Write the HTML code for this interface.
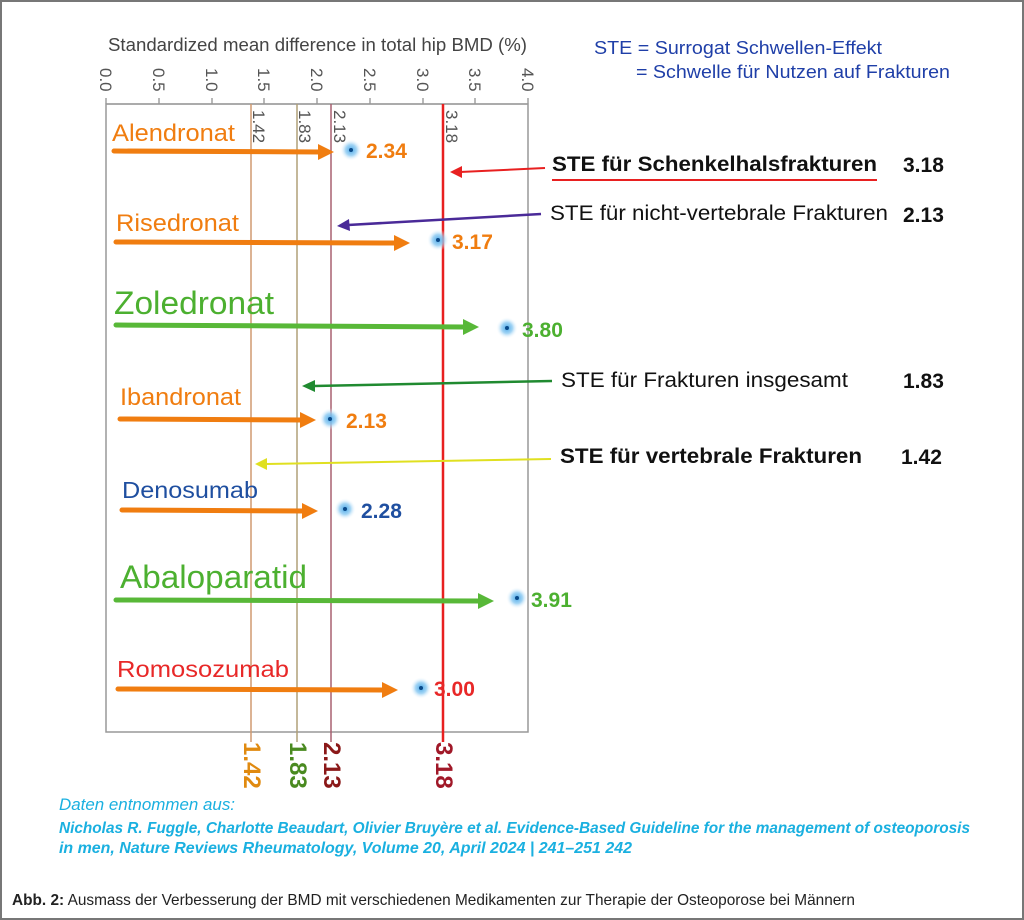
<!DOCTYPE html>
<html><head><meta charset="utf-8"><style>body{margin:0;background:#fff}svg{display:block}</style></head><body>
<svg width="1024" height="920" viewBox="0 0 1024 920" font-family="Liberation Sans, sans-serif">
<defs>
<radialGradient id="g"><stop offset="0" stop-color="#4aa8e8"/><stop offset="0.5" stop-color="#8ccaf2" stop-opacity="0.8"/><stop offset="1" stop-color="#fff" stop-opacity="0"/></radialGradient>
</defs>
<rect x="1" y="1" width="1022" height="918" fill="#fff" stroke="#777" stroke-width="2"/>
<text x="108" y="51" font-size="18" fill="#444" textLength="419" lengthAdjust="spacingAndGlyphs">Standardized mean difference in total hip BMD (%)</text>
<g font-size="17" fill="#555">
<text transform="translate(100,68) rotate(90)">0.0</text>
<text transform="translate(153,68) rotate(90)">0.5</text>
<text transform="translate(206,68) rotate(90)">1.0</text>
<text transform="translate(258,68) rotate(90)">1.5</text>
<text transform="translate(311,68) rotate(90)">2.0</text>
<text transform="translate(364,68) rotate(90)">2.5</text>
<text transform="translate(417,68) rotate(90)">3.0</text>
<text transform="translate(469,68) rotate(90)">3.5</text>
<text transform="translate(522,68) rotate(90)">4.0</text>
<text transform="translate(253,110) rotate(90)">1.42</text>
<text transform="translate(299,110) rotate(90)">1.83</text>
<text transform="translate(334,110) rotate(90)">2.13</text>
<text transform="translate(446,110) rotate(90)">3.18</text>
</g>
<g stroke="#888" stroke-width="1.2">
<line x1="106" y1="104" x2="528" y2="104"/>
<line x1="106" y1="98" x2="106" y2="104"/><line x1="159" y1="98" x2="159" y2="104"/><line x1="212" y1="98" x2="212" y2="104"/><line x1="264" y1="98" x2="264" y2="104"/><line x1="317" y1="98" x2="317" y2="104"/><line x1="370" y1="98" x2="370" y2="104"/><line x1="423" y1="98" x2="423" y2="104"/><line x1="475" y1="98" x2="475" y2="104"/><line x1="528" y1="98" x2="528" y2="104"/>
</g>
<rect x="106" y="104" width="422" height="628" fill="none" stroke="#999" stroke-width="1.5"/>
<line x1="251" y1="104" x2="251" y2="742" stroke="#d09a70" stroke-width="1.5"/>
<line x1="297" y1="104" x2="297" y2="742" stroke="#b0a078" stroke-width="1.5"/>
<line x1="331" y1="104" x2="331" y2="742" stroke="#a86070" stroke-width="1.5"/>
<line x1="443" y1="104" x2="443" y2="742" stroke="#e82020" stroke-width="2.5"/>
<g font-weight="bold" font-size="24">
<text transform="translate(244,742) rotate(90)" fill="#e08a10">1.42</text>
<text transform="translate(290,742) rotate(90)" fill="#4a8a20">1.83</text>
<text transform="translate(324,742) rotate(90)" fill="#8a1818">2.13</text>
<text transform="translate(436,742) rotate(90)" fill="#a01828">3.18</text>
</g>
<g font-size="24" fill="#f07d10">
<text x="112" y="141" textLength="123" lengthAdjust="spacingAndGlyphs">Alendronat</text>
<text x="116" y="231" textLength="123" lengthAdjust="spacingAndGlyphs">Risedronat</text>
<text x="120" y="405" textLength="121" lengthAdjust="spacingAndGlyphs">Ibandronat</text>
</g>
<text x="114" y="314" font-size="32" fill="#4cb030" textLength="160" lengthAdjust="spacingAndGlyphs">Zoledronat</text>
<text x="120" y="588" font-size="32" fill="#4cb030" textLength="187" lengthAdjust="spacingAndGlyphs">Abaloparatid</text>
<text x="122" y="498" font-size="23" fill="#1f4fa0" textLength="136" lengthAdjust="spacingAndGlyphs">Denosumab</text>
<text x="117" y="677" font-size="23" fill="#e82828" textLength="172" lengthAdjust="spacingAndGlyphs">Romosozumab</text>
<g stroke-width="5" stroke-linecap="round" fill="none">
<line x1="114" y1="151" x2="322" y2="152" stroke="#f07d10"/><path d="M318,144L334,152L318,160z" fill="#f07d10"/>
<line x1="116" y1="242" x2="398" y2="243" stroke="#f07d10"/><path d="M394,235L410,243L394,251z" fill="#f07d10"/>
<line x1="116" y1="325" x2="466" y2="327" stroke="#58b838"/><path d="M463,319L479,327L463,335z" fill="#58b838"/>
<line x1="120" y1="419" x2="304" y2="420" stroke="#f07d10"/><path d="M300,412L316,420L300,428z" fill="#f07d10"/>
<line x1="122" y1="510" x2="306" y2="511" stroke="#f07d10"/><path d="M302,503L318,511L302,519z" fill="#f07d10"/>
<line x1="116" y1="600" x2="482" y2="601" stroke="#58b838"/><path d="M478,593L494,601L478,609z" fill="#58b838"/>
<line x1="118" y1="689" x2="386" y2="690" stroke="#f07d10"/><path d="M382,682L398,690L382,698z" fill="#f07d10"/>
</g>
<g fill="url(#g)">
<circle cx="351" cy="150" r="11"/><circle cx="438" cy="240" r="11"/><circle cx="507" cy="328" r="11"/><circle cx="330" cy="419" r="11"/><circle cx="345" cy="509" r="11"/><circle cx="517" cy="598" r="11"/><circle cx="421" cy="688" r="11"/>
</g>
<g fill="#0a4a8a"><circle cx="351" cy="150" r="2"/><circle cx="438" cy="240" r="2"/><circle cx="507" cy="328" r="2"/><circle cx="330" cy="419" r="2"/><circle cx="345" cy="509" r="2"/><circle cx="517" cy="598" r="2"/><circle cx="421" cy="688" r="2"/></g>
<g font-size="21" font-weight="bold">
<text x="366" y="158" fill="#f07d10">2.34</text>
<text x="452" y="249" fill="#f07d10">3.17</text>
<text x="522" y="337" fill="#4cb030">3.80</text>
<text x="346" y="428" fill="#f07d10">2.13</text>
<text x="361" y="518" fill="#1f4fa0">2.28</text>
<text x="531" y="607" fill="#4cb030">3.91</text>
<text x="434" y="696" fill="#e82828">3.00</text>
</g>
<g font-size="18.5" fill="#1f3fa8">
<text x="594" y="54" textLength="288" lengthAdjust="spacingAndGlyphs">STE = Surrogat Schwellen-Effekt</text>
<text x="636" y="78" textLength="314" lengthAdjust="spacingAndGlyphs">= Schwelle für Nutzen auf Frakturen</text>
</g>
<g font-size="21" fill="#111">
<text x="552" y="171" font-weight="bold" textLength="325" lengthAdjust="spacingAndGlyphs">STE für Schenkelhalsfrakturen</text>
<text x="550" y="220" textLength="338" lengthAdjust="spacingAndGlyphs">STE für nicht-vertebrale Frakturen</text>
<text x="561" y="387" textLength="287" lengthAdjust="spacingAndGlyphs">STE für Frakturen insgesamt</text>
<text x="560" y="463" font-weight="bold" textLength="302" lengthAdjust="spacingAndGlyphs">STE für vertebrale Frakturen</text>
<text x="903" y="172" font-weight="bold">3.18</text>
<text x="903" y="222" font-weight="bold">2.13</text>
<text x="903" y="388" font-weight="bold">1.83</text>
<text x="901" y="464" font-weight="bold">1.42</text>
</g>
<line x1="552" y1="180" x2="877" y2="180" stroke="#e82020" stroke-width="2"/>
<line x1="545" y1="168" x2="460" y2="172" stroke="#e82020" stroke-width="2"/><path d="M450,172L462,166L462,178z" fill="#e82020"/>
<line x1="541" y1="214" x2="348" y2="225" stroke="#4a2a98" stroke-width="2.5"/><path d="M337,226L349,219L350,231z" fill="#4a2a98"/>
<line x1="552" y1="381" x2="314" y2="386" stroke="#208a30" stroke-width="2.5"/><path d="M302,386L315,380L315,392z" fill="#208a30"/>
<line x1="551" y1="459" x2="266" y2="464" stroke="#e0e020" stroke-width="2"/><path d="M255,464L267,458L267,470z" fill="#e0e020"/>
<g font-style="italic" fill="#1ab0e0">
<text x="59" y="810" font-size="17" textLength="176" lengthAdjust="spacingAndGlyphs">Daten entnommen aus:</text>
<text x="59" y="833" font-size="16" font-weight="bold" textLength="911" lengthAdjust="spacingAndGlyphs">Nicholas R. Fuggle, Charlotte Beaudart, Olivier Bruyère et al.  Evidence-Based Guideline for the management of osteoporosis</text>
<text x="59" y="853" font-size="16" font-weight="bold" textLength="573" lengthAdjust="spacingAndGlyphs">in men, Nature Reviews Rheumatology, Volume 20, April 2024 | 241–251 242</text>
</g>
<text x="12" y="905" font-size="16" fill="#222" textLength="843" lengthAdjust="spacingAndGlyphs"><tspan font-weight="bold">Abb. 2:</tspan> Ausmass der Verbesserung der BMD mit verschiedenen Medikamenten zur Therapie der Osteoporose bei Männern</text>
</svg>
</body></html>
